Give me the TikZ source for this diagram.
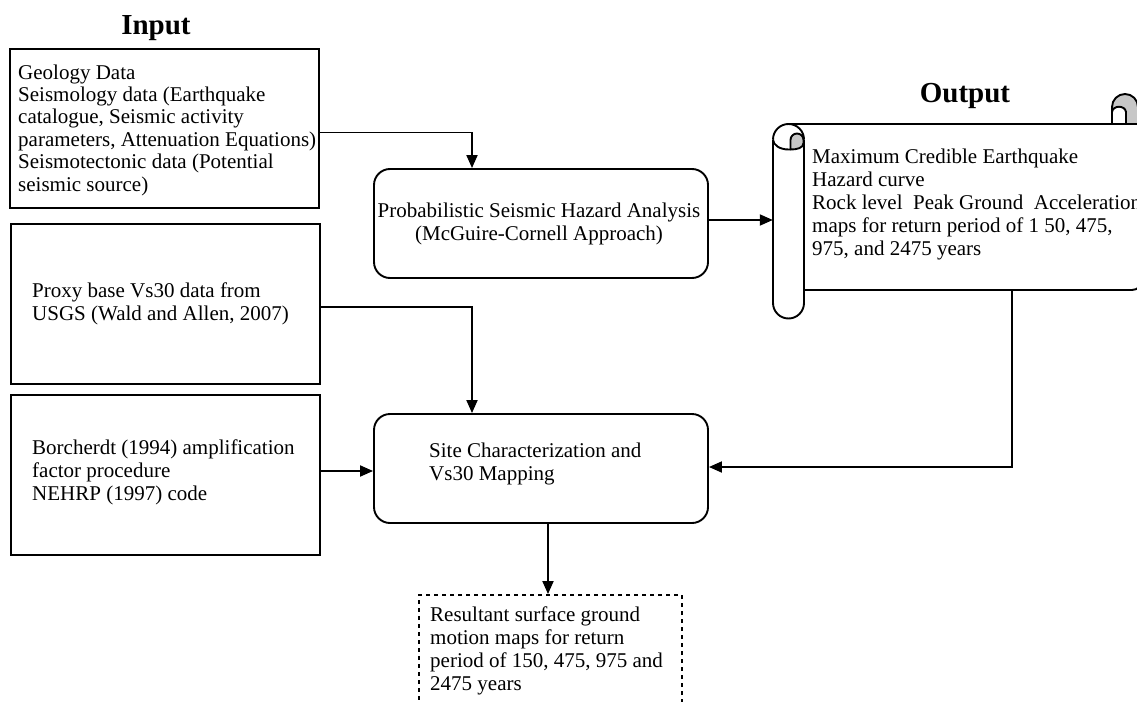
\documentclass[tikz,border=0pt]{standalone}
\usepackage{fontspec}
\setmainfont{Liberation Serif}
\usetikzlibrary{arrows.meta}
\begin{document}
\begin{tikzpicture}[x=1pt,y=-1pt,
  box/.style={draw, line width=1.9pt, inner sep=0pt},
  rbox/.style={draw, line width=1.9pt, inner sep=0pt, rounded corners=16pt},
  dbox/.style={draw, line width=1.9pt, inner sep=0pt, dash pattern=on 4pt off 4pt},
  txt/.style={inner sep=0pt, align=left, font={\fontsize{21}{23}\selectfont}},
  ttl/.style={inner sep=0pt, font={\fontsize{29}{31}\selectfont\bfseries}},
  sl/.style={line width=1.9pt, line join=round},
  arr/.style={line width=1.9pt, -{Triangle[length=13pt,width=11pt]}}]
\useasboundingbox (0,0) rectangle (1137,701);

% titles
\node[ttl, anchor=base] (tin) at (156,35) {Input};
\node[ttl, anchor=base] (tout) at (965,102) {Output};

% input boxes
\node[box, minimum width=309pt, minimum height=159pt] (in1) at (164.5,128.5) {};
\node[box, minimum width=309pt, minimum height=160pt] (in2) at (165.5,304) {};
\node[box, minimum width=309pt, minimum height=160pt] (in3) at (165.5,475) {};

\node[txt, anchor=base west, font={\fontsize{21}{22.4}\selectfont}] (t1) at (18,191)
  {Geology Data\\Seismology data (Earthquake\\catalogue, Seismic activity\\parameters, Attenuation Equations)\\Seismotectonic data (Potential\\seismic source)};
\node[txt, anchor=base west] (t2) at (32,320)
  {Proxy base Vs30 data from\\USGS (Wald and Allen, 2007)};
\node[txt, anchor=base west] (t3) at (32,500)
  {Borcherdt (1994) amplification\\factor procedure\\NEHRP (1997) code};

% process boxes
\node[rbox, minimum width=334pt, minimum height=109pt] (psha) at (541,223.5) {};
\node[txt, anchor=base, align=center] (tp) at (539,240)
  {Probabilistic Seismic Hazard Analysis\\(McGuire-Cornell Approach)};
\node[rbox, minimum width=334pt, minimum height=109pt] (site) at (541,468.5) {};
\node[txt, anchor=base west] (ts) at (429,480)
  {Site Characterization and\\Vs30 Mapping};

% result box
\node[dbox, minimum width=263pt, minimum height=125pt] (res) at (550.5,657.5) {};
\node[txt, anchor=base west] (tr) at (430,690)
  {Resultant surface ground\\motion maps for return\\period of 150, 475, 975 and\\2475 years};

% scroll (output)
\node[inner sep=0pt, minimum width=369pt, minimum height=167pt] (scroll) at (957.5,206.5) {};
\draw[sl] (788.5,124) -- (1138,124);
\draw[sl] (804,290) -- (1132,290) arc[start angle=90, end angle=0, radius=10] -- (1142,124);
\draw[sl] (773,139.5) -- (773,303) arc[start angle=180, end angle=0, radius=15.5] -- (804,139.5);
\draw[sl] (773,139.5) arc[start angle=180, end angle=360, radius=15.5];
\draw[sl] (773,139.5) arc[start angle=180, end angle=90, x radius=15.5, y radius=10] -- (790.5,149.5);
\filldraw[sl, fill=black!22] (790.5,149.5) -- (790.5,140) arc[start angle=180, end angle=360, radius=6.5]
  -- (803.5,143) .. controls (803.5,148) and (797,149.5) .. (790.5,149.5) -- cycle;
\fill[black!22] (1112,124) -- (1112,107) arc[start angle=180, end angle=360, radius=13] -- (1138,124) -- cycle;
\fill[white] (1112,124) -- (1112,112) .. controls (1113,105) and (1125,105) .. (1126,112) -- (1126,124) -- cycle;
\draw[sl] (1112,124) -- (1112,107) arc[start angle=180, end angle=360, radius=13] -- (1138,124);
\draw[sl] (1126,124) -- (1126,112) .. controls (1125,105) and (1113,105) .. (1112,112);
\draw[sl] (1100,124) -- (1138,124);
\node[txt, anchor=base west] (to) at (812,255)
  {Maximum Credible Earthquake\\Hazard curve\\Rock level\ \ Peak Ground\ \ Acceleration\\maps for return period of 1 50, 475,\\975, and 2475 years};

% connectors
\draw[arr] (in1.east |- 0,132.5) -| (psha.north -| 472,0);
\draw[arr] (psha.east |- 0,220) -- (scroll.west |- 0,220);
\draw[arr] (in2.east |- 0,307) -| (site.north -| 472,0);
\draw[arr] (in3.east |- 0,471) -- (site.west |- 0,471);
\draw[arr] (scroll.south -| 1012,0) |- (site.east |- 0,467);
\draw[arr] (site.south -| 548,0) -- (res.north -| 548,0);
\end{tikzpicture}
\end{document}
